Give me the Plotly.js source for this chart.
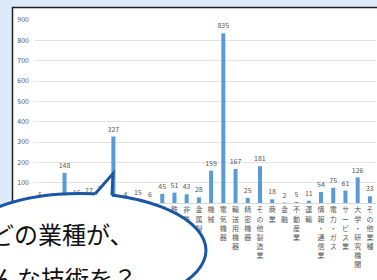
<!DOCTYPE html>
<html><head><meta charset="utf-8">
<script src="https://cdn.plot.ly/plotly-3.0.1.min.js"></script>
<style>html,body{margin:0;padding:0;background:#dcebf9;}#chart{width:377px;height:280px;}</style>
</head><body><div id="chart"></div>
<script>
const categories = ['水産・農林業','鉱業','建設業','食料品','繊維製品','パルプ・紙','化学','医薬品','石油・石炭製品','ゴム製品','ガラス・土石製品','鉄鋼','非鉄金属','金属製品','機械','電気機器','輸送用機器','精密機器','その他製造業','商業','金融','不動産業','運輸','情報・通信業','電力・ガス','サービス業','大学・研究機関','その他業種'];
const values = [5,0,148,16,27,35,327,4,15,6,45,51,43,28,159,835,167,25,181,18,2,5,11,54,75,61,126,33];
const yTickValues = [0,100,200,300,400,500,600,700,800,900];
const bubbleLine1 = 'どの業種が、';
const bubbleLine2 = 'どんな技術を？';

const W=377,H=280,L=34,R=1,T=20,B=76.5;
const pw=W-L-R, ph=H-T-B;
const px=x=>(x-L)/pw;
const py=y=>(H-B-y)/ph;
const P=(x,y)=>px(x).toFixed(5)+','+py(y).toFixed(5);

const vertical = s => s.split('').join('<br>');
const blue = '#1a56a4';
const labelLift = 14; // data-unit gap between bar top and its value label

const bars = {
  type:'bar', x:categories, y:values,
  marker:{color:'#5b9bd5'}, hoverinfo:'none', cliponaxis:false
};
const labels = {
  type:'bar', x:categories, y:values.map(v=>v+labelLift),
  marker:{color:'rgba(0,0,0,0)'},
  text:values.map(String), textposition:'outside', textangle:0, constraintext:'none',
  textfont:{size:7,color:'#595959',family:'Noto Sans CJK JP'},
  cliponaxis:false, hoverinfo:'none'
};

const layout = {
  width:W,height:H,
  margin:{l:L,r:R,t:T,b:B,pad:0},
  paper_bgcolor:'#dcebf9', plot_bgcolor:'rgba(0,0,0,0)',
  showlegend:false, bargap:0.67, barmode:'overlay',
  font:{family:'Noto Sans CJK JP',color:'#595959'},
  xaxis:{type:'category', tickvals:categories, ticktext:categories.map(vertical),
    tickangle:0, tickfont:{size:7,color:'#595959'}, ticks:'', showgrid:false,
    showline:true, linecolor:'#d9d9d9', linewidth:1, fixedrange:true},
  yaxis:{range:[0,900], tickvals:yTickValues, tickfont:{size:7,color:'#595959'},
    ticks:'', ticklabelstandoff:4, showgrid:true, gridcolor:'#e3e3e3', gridwidth:1, zeroline:false,
    showline:false, fixedrange:true},
  shapes:[
    {type:'rect', xref:'paper', yref:'paper', layer:'below',
      x0:px(12.5), x1:px(420), y0:py(420), y1:py(7.5),
      fillcolor:'#ffffff', line:{color:'#1e1e1e', width:1.5}},
    {type:'circle', xref:'paper', yref:'paper', layer:'above',
      x0:px(80-126), x1:px(206), y0:py(308), y1:py(194),
      fillcolor:'#ffffff', line:{color:blue, width:3}},
    {type:'path', xref:'paper', yref:'paper', layer:'above',
      path:'M'+P(95,194.5)+' L'+P(113,174)+' L'+P(112,196)+' L'+P(111.8,199.5)+' L'+P(96,199.5)+' Z',
      fillcolor:'#ffffff', line:{width:0}},
    {type:'path', xref:'paper', yref:'paper', layer:'above',
      path:'M'+P(95,194.5)+' L'+P(113,174)+' L'+P(112,196),
      fillcolor:'rgba(0,0,0,0)', line:{color:blue, width:3}}
  ],
  annotations:[
    {xref:'paper', yref:'paper', x:px(-12), y:py(234), xanchor:'left', yanchor:'middle',
      text:bubbleLine1, showarrow:false, font:{size:24,color:'#111111',family:'Noto Sans CJK JP'}},
    {xref:'paper', yref:'paper', x:px(-33), y:py(278), xanchor:'left', yanchor:'middle',
      text:bubbleLine2, showarrow:false, font:{size:24,color:'#111111',family:'Noto Sans CJK JP'}}
  ]
};

Plotly.newPlot('chart',[bars,labels],layout,{staticPlot:true,displayModeBar:false});
</script></body></html>
